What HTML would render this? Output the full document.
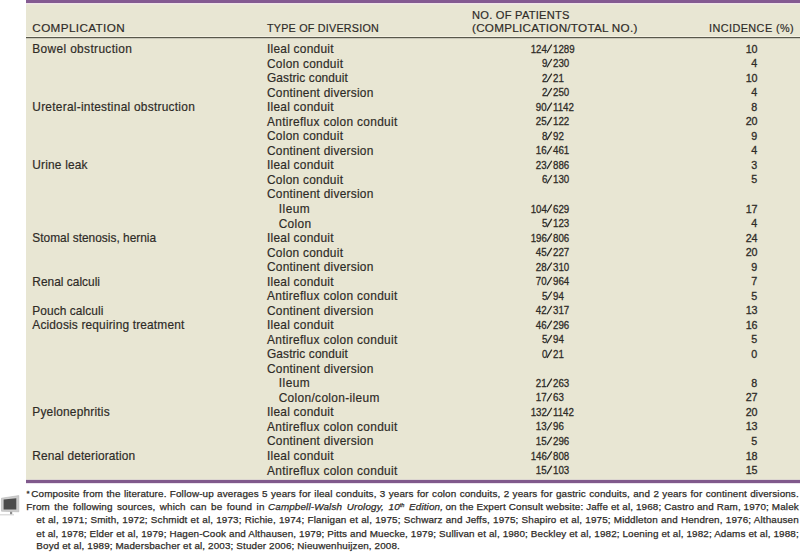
<!DOCTYPE html><html><head><meta charset="utf-8"><style>
html,body{margin:0;padding:0;background:#fff;width:800px;height:552px;overflow:hidden;position:relative;}
body{font-family:"Liberation Sans",sans-serif;color:#2e2b27;}
.t{position:absolute;white-space:nowrap;-webkit-text-stroke:0.18px #2e2b27;}
.r{position:absolute;left:26px;width:774px;}
</style></head><body>
<div class="r" style="top:0;height:480px;background:#e8e6d3"></div>
<div class="r" style="top:0;height:3px;background:#845a91"></div>
<div class="r" style="top:3px;height:1px;background:#efe3e8"></div>
<div class="r" style="top:4px;height:1px;background:#ece8dc"></div>
<div class="r" style="top:36px;height:1px;background:#f4f1e2"></div>
<div class="r" style="top:37px;height:1px;background:#58574a"></div>
<div class="r" style="top:38px;height:1px;background:#c9c7b9"></div>
<div class="r" style="top:479px;height:1px;background:#dcd6d0"></div>
<div class="r" style="top:480px;height:3px;background:#80598c"></div>
<div class="r" style="top:483px;height:1px;background:#ebe3ee"></div>
<div class="t" style="left:32.30px;top:20.63px;font-size:11.70px;line-height:14.04px;letter-spacing:0.39px;transform:scaleX(1.000);transform-origin:left center;">COMPLICATION</div>
<div class="t" style="left:267.00px;top:20.63px;font-size:11.70px;line-height:14.04px;letter-spacing:0.25px;transform:scaleX(0.920);transform-origin:left center;">TYPE OF DIVERSION</div>
<div class="t" style="left:472.00px;top:7.63px;font-size:11.70px;line-height:14.04px;letter-spacing:0.26px;transform:scaleX(0.950);transform-origin:left center;">NO. OF PATIENTS</div>
<div class="t" style="left:472.00px;top:20.63px;font-size:11.70px;line-height:14.04px;letter-spacing:0.26px;transform:scaleX(1.000);transform-origin:left center;">(COMPLICATION/TOTAL NO.)</div>
<div class="t" style="left:709.40px;top:20.63px;font-size:11.70px;line-height:14.04px;letter-spacing:0.45px;transform:scaleX(0.930);transform-origin:left center;">INCIDENCE (%)</div>
<div class="t" style="left:32.30px;top:42.14px;font-size:11.90px;line-height:14.28px;letter-spacing:0.36px;">Bowel obstruction</div>
<div class="t" style="left:267.00px;top:42.14px;font-size:11.90px;line-height:14.28px;letter-spacing:0.25px;">Ileal conduit</div>
<div class="t" style="right:253.00px;top:42.70px;font-size:11.30px;line-height:13.56px;letter-spacing:0.00px;text-align:right;transform:scaleX(0.860);transform-origin:right center;-webkit-text-stroke-width:0.30px;">124</div>
<div class="t" style="left:552.60px;top:42.70px;font-size:11.30px;line-height:13.56px;letter-spacing:0.00px;transform:scaleX(0.860);transform-origin:left center;-webkit-text-stroke-width:0.30px;">1289</div>
<div class="t" style="right:42.80px;top:42.70px;font-size:11.30px;line-height:13.56px;letter-spacing:0.00px;text-align:right;transform:scaleX(0.950);transform-origin:right center;-webkit-text-stroke-width:0.30px;">10</div>
<div class="t" style="left:267.00px;top:56.67px;font-size:11.90px;line-height:14.28px;letter-spacing:0.27px;">Colon conduit</div>
<div class="t" style="right:253.00px;top:57.23px;font-size:11.30px;line-height:13.56px;letter-spacing:0.00px;text-align:right;transform:scaleX(0.860);transform-origin:right center;-webkit-text-stroke-width:0.30px;">9</div>
<div class="t" style="left:552.60px;top:57.23px;font-size:11.30px;line-height:13.56px;letter-spacing:0.00px;transform:scaleX(0.860);transform-origin:left center;-webkit-text-stroke-width:0.30px;">230</div>
<div class="t" style="right:42.80px;top:57.23px;font-size:11.30px;line-height:13.56px;letter-spacing:0.00px;text-align:right;transform:scaleX(0.950);transform-origin:right center;-webkit-text-stroke-width:0.30px;">4</div>
<div class="t" style="left:267.00px;top:71.20px;font-size:11.90px;line-height:14.28px;letter-spacing:0.11px;">Gastric conduit</div>
<div class="t" style="right:253.00px;top:71.76px;font-size:11.30px;line-height:13.56px;letter-spacing:0.00px;text-align:right;transform:scaleX(0.860);transform-origin:right center;-webkit-text-stroke-width:0.30px;">2</div>
<div class="t" style="left:552.60px;top:71.76px;font-size:11.30px;line-height:13.56px;letter-spacing:0.00px;transform:scaleX(0.860);transform-origin:left center;-webkit-text-stroke-width:0.30px;">21</div>
<div class="t" style="right:42.80px;top:71.76px;font-size:11.30px;line-height:13.56px;letter-spacing:0.00px;text-align:right;transform:scaleX(0.950);transform-origin:right center;-webkit-text-stroke-width:0.30px;">10</div>
<div class="t" style="left:267.00px;top:85.73px;font-size:11.90px;line-height:14.28px;letter-spacing:0.25px;">Continent diversion</div>
<div class="t" style="right:253.00px;top:86.29px;font-size:11.30px;line-height:13.56px;letter-spacing:0.00px;text-align:right;transform:scaleX(0.860);transform-origin:right center;-webkit-text-stroke-width:0.30px;">2</div>
<div class="t" style="left:552.60px;top:86.29px;font-size:11.30px;line-height:13.56px;letter-spacing:0.00px;transform:scaleX(0.860);transform-origin:left center;-webkit-text-stroke-width:0.30px;">250</div>
<div class="t" style="right:42.80px;top:86.29px;font-size:11.30px;line-height:13.56px;letter-spacing:0.00px;text-align:right;transform:scaleX(0.950);transform-origin:right center;-webkit-text-stroke-width:0.30px;">4</div>
<div class="t" style="left:32.30px;top:100.26px;font-size:11.90px;line-height:14.28px;letter-spacing:0.26px;">Ureteral-intestinal obstruction</div>
<div class="t" style="left:267.00px;top:100.26px;font-size:11.90px;line-height:14.28px;letter-spacing:0.25px;">Ileal conduit</div>
<div class="t" style="right:253.00px;top:100.82px;font-size:11.30px;line-height:13.56px;letter-spacing:0.00px;text-align:right;transform:scaleX(0.860);transform-origin:right center;-webkit-text-stroke-width:0.30px;">90</div>
<div class="t" style="left:552.60px;top:100.82px;font-size:11.30px;line-height:13.56px;letter-spacing:0.00px;transform:scaleX(0.860);transform-origin:left center;-webkit-text-stroke-width:0.30px;">1142</div>
<div class="t" style="right:42.80px;top:100.82px;font-size:11.30px;line-height:13.56px;letter-spacing:0.00px;text-align:right;transform:scaleX(0.950);transform-origin:right center;-webkit-text-stroke-width:0.30px;">8</div>
<div class="t" style="left:267.00px;top:114.79px;font-size:11.90px;line-height:14.28px;letter-spacing:0.32px;">Antireflux colon conduit</div>
<div class="t" style="right:253.00px;top:115.35px;font-size:11.30px;line-height:13.56px;letter-spacing:0.00px;text-align:right;transform:scaleX(0.860);transform-origin:right center;-webkit-text-stroke-width:0.30px;">25</div>
<div class="t" style="left:552.60px;top:115.35px;font-size:11.30px;line-height:13.56px;letter-spacing:0.00px;transform:scaleX(0.860);transform-origin:left center;-webkit-text-stroke-width:0.30px;">122</div>
<div class="t" style="right:42.80px;top:115.35px;font-size:11.30px;line-height:13.56px;letter-spacing:0.00px;text-align:right;transform:scaleX(0.950);transform-origin:right center;-webkit-text-stroke-width:0.30px;">20</div>
<div class="t" style="left:267.00px;top:129.32px;font-size:11.90px;line-height:14.28px;letter-spacing:0.27px;">Colon conduit</div>
<div class="t" style="right:253.00px;top:129.88px;font-size:11.30px;line-height:13.56px;letter-spacing:0.00px;text-align:right;transform:scaleX(0.860);transform-origin:right center;-webkit-text-stroke-width:0.30px;">8</div>
<div class="t" style="left:552.60px;top:129.88px;font-size:11.30px;line-height:13.56px;letter-spacing:0.00px;transform:scaleX(0.860);transform-origin:left center;-webkit-text-stroke-width:0.30px;">92</div>
<div class="t" style="right:42.80px;top:129.88px;font-size:11.30px;line-height:13.56px;letter-spacing:0.00px;text-align:right;transform:scaleX(0.950);transform-origin:right center;-webkit-text-stroke-width:0.30px;">9</div>
<div class="t" style="left:267.00px;top:143.85px;font-size:11.90px;line-height:14.28px;letter-spacing:0.25px;">Continent diversion</div>
<div class="t" style="right:253.00px;top:144.41px;font-size:11.30px;line-height:13.56px;letter-spacing:0.00px;text-align:right;transform:scaleX(0.860);transform-origin:right center;-webkit-text-stroke-width:0.30px;">16</div>
<div class="t" style="left:552.60px;top:144.41px;font-size:11.30px;line-height:13.56px;letter-spacing:0.00px;transform:scaleX(0.860);transform-origin:left center;-webkit-text-stroke-width:0.30px;">461</div>
<div class="t" style="right:42.80px;top:144.41px;font-size:11.30px;line-height:13.56px;letter-spacing:0.00px;text-align:right;transform:scaleX(0.950);transform-origin:right center;-webkit-text-stroke-width:0.30px;">4</div>
<div class="t" style="left:32.30px;top:158.38px;font-size:11.90px;line-height:14.28px;letter-spacing:0.19px;">Urine leak</div>
<div class="t" style="left:267.00px;top:158.38px;font-size:11.90px;line-height:14.28px;letter-spacing:0.25px;">Ileal conduit</div>
<div class="t" style="right:253.00px;top:158.94px;font-size:11.30px;line-height:13.56px;letter-spacing:0.00px;text-align:right;transform:scaleX(0.860);transform-origin:right center;-webkit-text-stroke-width:0.30px;">23</div>
<div class="t" style="left:552.60px;top:158.94px;font-size:11.30px;line-height:13.56px;letter-spacing:0.00px;transform:scaleX(0.860);transform-origin:left center;-webkit-text-stroke-width:0.30px;">886</div>
<div class="t" style="right:42.80px;top:158.94px;font-size:11.30px;line-height:13.56px;letter-spacing:0.00px;text-align:right;transform:scaleX(0.950);transform-origin:right center;-webkit-text-stroke-width:0.30px;">3</div>
<div class="t" style="left:267.00px;top:172.91px;font-size:11.90px;line-height:14.28px;letter-spacing:0.27px;">Colon conduit</div>
<div class="t" style="right:253.00px;top:173.47px;font-size:11.30px;line-height:13.56px;letter-spacing:0.00px;text-align:right;transform:scaleX(0.860);transform-origin:right center;-webkit-text-stroke-width:0.30px;">6</div>
<div class="t" style="left:552.60px;top:173.47px;font-size:11.30px;line-height:13.56px;letter-spacing:0.00px;transform:scaleX(0.860);transform-origin:left center;-webkit-text-stroke-width:0.30px;">130</div>
<div class="t" style="right:42.80px;top:173.47px;font-size:11.30px;line-height:13.56px;letter-spacing:0.00px;text-align:right;transform:scaleX(0.950);transform-origin:right center;-webkit-text-stroke-width:0.30px;">5</div>
<div class="t" style="left:267.00px;top:187.44px;font-size:11.90px;line-height:14.28px;letter-spacing:0.25px;">Continent diversion</div>
<div class="t" style="left:278.70px;top:201.97px;font-size:11.90px;line-height:14.28px;letter-spacing:0.50px;">Ileum</div>
<div class="t" style="right:253.00px;top:202.53px;font-size:11.30px;line-height:13.56px;letter-spacing:0.00px;text-align:right;transform:scaleX(0.860);transform-origin:right center;-webkit-text-stroke-width:0.30px;">104</div>
<div class="t" style="left:552.60px;top:202.53px;font-size:11.30px;line-height:13.56px;letter-spacing:0.00px;transform:scaleX(0.860);transform-origin:left center;-webkit-text-stroke-width:0.30px;">629</div>
<div class="t" style="right:42.80px;top:202.53px;font-size:11.30px;line-height:13.56px;letter-spacing:0.00px;text-align:right;transform:scaleX(0.950);transform-origin:right center;-webkit-text-stroke-width:0.30px;">17</div>
<div class="t" style="left:278.70px;top:216.50px;font-size:11.90px;line-height:14.28px;letter-spacing:0.31px;">Colon</div>
<div class="t" style="right:253.00px;top:217.06px;font-size:11.30px;line-height:13.56px;letter-spacing:0.00px;text-align:right;transform:scaleX(0.860);transform-origin:right center;-webkit-text-stroke-width:0.30px;">5</div>
<div class="t" style="left:552.60px;top:217.06px;font-size:11.30px;line-height:13.56px;letter-spacing:0.00px;transform:scaleX(0.860);transform-origin:left center;-webkit-text-stroke-width:0.30px;">123</div>
<div class="t" style="right:42.80px;top:217.06px;font-size:11.30px;line-height:13.56px;letter-spacing:0.00px;text-align:right;transform:scaleX(0.950);transform-origin:right center;-webkit-text-stroke-width:0.30px;">4</div>
<div class="t" style="left:32.30px;top:231.03px;font-size:11.90px;line-height:14.28px;letter-spacing:0.01px;">Stomal stenosis, hernia</div>
<div class="t" style="left:267.00px;top:231.03px;font-size:11.90px;line-height:14.28px;letter-spacing:0.25px;">Ileal conduit</div>
<div class="t" style="right:253.00px;top:231.59px;font-size:11.30px;line-height:13.56px;letter-spacing:0.00px;text-align:right;transform:scaleX(0.860);transform-origin:right center;-webkit-text-stroke-width:0.30px;">196</div>
<div class="t" style="left:552.60px;top:231.59px;font-size:11.30px;line-height:13.56px;letter-spacing:0.00px;transform:scaleX(0.860);transform-origin:left center;-webkit-text-stroke-width:0.30px;">806</div>
<div class="t" style="right:42.80px;top:231.59px;font-size:11.30px;line-height:13.56px;letter-spacing:0.00px;text-align:right;transform:scaleX(0.950);transform-origin:right center;-webkit-text-stroke-width:0.30px;">24</div>
<div class="t" style="left:267.00px;top:245.56px;font-size:11.90px;line-height:14.28px;letter-spacing:0.27px;">Colon conduit</div>
<div class="t" style="right:253.00px;top:246.12px;font-size:11.30px;line-height:13.56px;letter-spacing:0.00px;text-align:right;transform:scaleX(0.860);transform-origin:right center;-webkit-text-stroke-width:0.30px;">45</div>
<div class="t" style="left:552.60px;top:246.12px;font-size:11.30px;line-height:13.56px;letter-spacing:0.00px;transform:scaleX(0.860);transform-origin:left center;-webkit-text-stroke-width:0.30px;">227</div>
<div class="t" style="right:42.80px;top:246.12px;font-size:11.30px;line-height:13.56px;letter-spacing:0.00px;text-align:right;transform:scaleX(0.950);transform-origin:right center;-webkit-text-stroke-width:0.30px;">20</div>
<div class="t" style="left:267.00px;top:260.09px;font-size:11.90px;line-height:14.28px;letter-spacing:0.25px;">Continent diversion</div>
<div class="t" style="right:253.00px;top:260.65px;font-size:11.30px;line-height:13.56px;letter-spacing:0.00px;text-align:right;transform:scaleX(0.860);transform-origin:right center;-webkit-text-stroke-width:0.30px;">28</div>
<div class="t" style="left:552.60px;top:260.65px;font-size:11.30px;line-height:13.56px;letter-spacing:0.00px;transform:scaleX(0.860);transform-origin:left center;-webkit-text-stroke-width:0.30px;">310</div>
<div class="t" style="right:42.80px;top:260.65px;font-size:11.30px;line-height:13.56px;letter-spacing:0.00px;text-align:right;transform:scaleX(0.950);transform-origin:right center;-webkit-text-stroke-width:0.30px;">9</div>
<div class="t" style="left:32.30px;top:274.62px;font-size:11.90px;line-height:14.28px;letter-spacing:0.02px;">Renal calculi</div>
<div class="t" style="left:267.00px;top:274.62px;font-size:11.90px;line-height:14.28px;letter-spacing:0.25px;">Ileal conduit</div>
<div class="t" style="right:253.00px;top:275.18px;font-size:11.30px;line-height:13.56px;letter-spacing:0.00px;text-align:right;transform:scaleX(0.860);transform-origin:right center;-webkit-text-stroke-width:0.30px;">70</div>
<div class="t" style="left:552.60px;top:275.18px;font-size:11.30px;line-height:13.56px;letter-spacing:0.00px;transform:scaleX(0.860);transform-origin:left center;-webkit-text-stroke-width:0.30px;">964</div>
<div class="t" style="right:42.80px;top:275.18px;font-size:11.30px;line-height:13.56px;letter-spacing:0.00px;text-align:right;transform:scaleX(0.950);transform-origin:right center;-webkit-text-stroke-width:0.30px;">7</div>
<div class="t" style="left:267.00px;top:289.15px;font-size:11.90px;line-height:14.28px;letter-spacing:0.32px;">Antireflux colon conduit</div>
<div class="t" style="right:253.00px;top:289.71px;font-size:11.30px;line-height:13.56px;letter-spacing:0.00px;text-align:right;transform:scaleX(0.860);transform-origin:right center;-webkit-text-stroke-width:0.30px;">5</div>
<div class="t" style="left:552.60px;top:289.71px;font-size:11.30px;line-height:13.56px;letter-spacing:0.00px;transform:scaleX(0.860);transform-origin:left center;-webkit-text-stroke-width:0.30px;">94</div>
<div class="t" style="right:42.80px;top:289.71px;font-size:11.30px;line-height:13.56px;letter-spacing:0.00px;text-align:right;transform:scaleX(0.950);transform-origin:right center;-webkit-text-stroke-width:0.30px;">5</div>
<div class="t" style="left:32.30px;top:303.68px;font-size:11.90px;line-height:14.28px;letter-spacing:0.08px;">Pouch calculi</div>
<div class="t" style="left:267.00px;top:303.68px;font-size:11.90px;line-height:14.28px;letter-spacing:0.25px;">Continent diversion</div>
<div class="t" style="right:253.00px;top:304.24px;font-size:11.30px;line-height:13.56px;letter-spacing:0.00px;text-align:right;transform:scaleX(0.860);transform-origin:right center;-webkit-text-stroke-width:0.30px;">42</div>
<div class="t" style="left:552.60px;top:304.24px;font-size:11.30px;line-height:13.56px;letter-spacing:0.00px;transform:scaleX(0.860);transform-origin:left center;-webkit-text-stroke-width:0.30px;">317</div>
<div class="t" style="right:42.80px;top:304.24px;font-size:11.30px;line-height:13.56px;letter-spacing:0.00px;text-align:right;transform:scaleX(0.950);transform-origin:right center;-webkit-text-stroke-width:0.30px;">13</div>
<div class="t" style="left:32.30px;top:318.21px;font-size:11.90px;line-height:14.28px;letter-spacing:0.17px;">Acidosis requiring treatment</div>
<div class="t" style="left:267.00px;top:318.21px;font-size:11.90px;line-height:14.28px;letter-spacing:0.25px;">Ileal conduit</div>
<div class="t" style="right:253.00px;top:318.77px;font-size:11.30px;line-height:13.56px;letter-spacing:0.00px;text-align:right;transform:scaleX(0.860);transform-origin:right center;-webkit-text-stroke-width:0.30px;">46</div>
<div class="t" style="left:552.60px;top:318.77px;font-size:11.30px;line-height:13.56px;letter-spacing:0.00px;transform:scaleX(0.860);transform-origin:left center;-webkit-text-stroke-width:0.30px;">296</div>
<div class="t" style="right:42.80px;top:318.77px;font-size:11.30px;line-height:13.56px;letter-spacing:0.00px;text-align:right;transform:scaleX(0.950);transform-origin:right center;-webkit-text-stroke-width:0.30px;">16</div>
<div class="t" style="left:267.00px;top:332.74px;font-size:11.90px;line-height:14.28px;letter-spacing:0.32px;">Antireflux colon conduit</div>
<div class="t" style="right:253.00px;top:333.30px;font-size:11.30px;line-height:13.56px;letter-spacing:0.00px;text-align:right;transform:scaleX(0.860);transform-origin:right center;-webkit-text-stroke-width:0.30px;">5</div>
<div class="t" style="left:552.60px;top:333.30px;font-size:11.30px;line-height:13.56px;letter-spacing:0.00px;transform:scaleX(0.860);transform-origin:left center;-webkit-text-stroke-width:0.30px;">94</div>
<div class="t" style="right:42.80px;top:333.30px;font-size:11.30px;line-height:13.56px;letter-spacing:0.00px;text-align:right;transform:scaleX(0.950);transform-origin:right center;-webkit-text-stroke-width:0.30px;">5</div>
<div class="t" style="left:267.00px;top:347.27px;font-size:11.90px;line-height:14.28px;letter-spacing:0.11px;">Gastric conduit</div>
<div class="t" style="right:253.00px;top:347.83px;font-size:11.30px;line-height:13.56px;letter-spacing:0.00px;text-align:right;transform:scaleX(0.860);transform-origin:right center;-webkit-text-stroke-width:0.30px;">0</div>
<div class="t" style="left:552.60px;top:347.83px;font-size:11.30px;line-height:13.56px;letter-spacing:0.00px;transform:scaleX(0.860);transform-origin:left center;-webkit-text-stroke-width:0.30px;">21</div>
<div class="t" style="right:42.80px;top:347.83px;font-size:11.30px;line-height:13.56px;letter-spacing:0.00px;text-align:right;transform:scaleX(0.950);transform-origin:right center;-webkit-text-stroke-width:0.30px;">0</div>
<div class="t" style="left:267.00px;top:361.80px;font-size:11.90px;line-height:14.28px;letter-spacing:0.25px;">Continent diversion</div>
<div class="t" style="left:278.70px;top:376.33px;font-size:11.90px;line-height:14.28px;letter-spacing:0.50px;">Ileum</div>
<div class="t" style="right:253.00px;top:376.89px;font-size:11.30px;line-height:13.56px;letter-spacing:0.00px;text-align:right;transform:scaleX(0.860);transform-origin:right center;-webkit-text-stroke-width:0.30px;">21</div>
<div class="t" style="left:552.60px;top:376.89px;font-size:11.30px;line-height:13.56px;letter-spacing:0.00px;transform:scaleX(0.860);transform-origin:left center;-webkit-text-stroke-width:0.30px;">263</div>
<div class="t" style="right:42.80px;top:376.89px;font-size:11.30px;line-height:13.56px;letter-spacing:0.00px;text-align:right;transform:scaleX(0.950);transform-origin:right center;-webkit-text-stroke-width:0.30px;">8</div>
<div class="t" style="left:278.70px;top:390.86px;font-size:11.90px;line-height:14.28px;letter-spacing:0.34px;">Colon/colon-ileum</div>
<div class="t" style="right:253.00px;top:391.42px;font-size:11.30px;line-height:13.56px;letter-spacing:0.00px;text-align:right;transform:scaleX(0.860);transform-origin:right center;-webkit-text-stroke-width:0.30px;">17</div>
<div class="t" style="left:552.60px;top:391.42px;font-size:11.30px;line-height:13.56px;letter-spacing:0.00px;transform:scaleX(0.860);transform-origin:left center;-webkit-text-stroke-width:0.30px;">63</div>
<div class="t" style="right:42.80px;top:391.42px;font-size:11.30px;line-height:13.56px;letter-spacing:0.00px;text-align:right;transform:scaleX(0.950);transform-origin:right center;-webkit-text-stroke-width:0.30px;">27</div>
<div class="t" style="left:32.30px;top:405.39px;font-size:11.90px;line-height:14.28px;letter-spacing:0.20px;">Pyelonephritis</div>
<div class="t" style="left:267.00px;top:405.39px;font-size:11.90px;line-height:14.28px;letter-spacing:0.25px;">Ileal conduit</div>
<div class="t" style="right:253.00px;top:405.95px;font-size:11.30px;line-height:13.56px;letter-spacing:0.00px;text-align:right;transform:scaleX(0.860);transform-origin:right center;-webkit-text-stroke-width:0.30px;">132</div>
<div class="t" style="left:552.60px;top:405.95px;font-size:11.30px;line-height:13.56px;letter-spacing:0.00px;transform:scaleX(0.860);transform-origin:left center;-webkit-text-stroke-width:0.30px;">1142</div>
<div class="t" style="right:42.80px;top:405.95px;font-size:11.30px;line-height:13.56px;letter-spacing:0.00px;text-align:right;transform:scaleX(0.950);transform-origin:right center;-webkit-text-stroke-width:0.30px;">20</div>
<div class="t" style="left:267.00px;top:419.92px;font-size:11.90px;line-height:14.28px;letter-spacing:0.32px;">Antireflux colon conduit</div>
<div class="t" style="right:253.00px;top:420.48px;font-size:11.30px;line-height:13.56px;letter-spacing:0.00px;text-align:right;transform:scaleX(0.860);transform-origin:right center;-webkit-text-stroke-width:0.30px;">13</div>
<div class="t" style="left:552.60px;top:420.48px;font-size:11.30px;line-height:13.56px;letter-spacing:0.00px;transform:scaleX(0.860);transform-origin:left center;-webkit-text-stroke-width:0.30px;">96</div>
<div class="t" style="right:42.80px;top:420.48px;font-size:11.30px;line-height:13.56px;letter-spacing:0.00px;text-align:right;transform:scaleX(0.950);transform-origin:right center;-webkit-text-stroke-width:0.30px;">13</div>
<div class="t" style="left:267.00px;top:434.45px;font-size:11.90px;line-height:14.28px;letter-spacing:0.25px;">Continent diversion</div>
<div class="t" style="right:253.00px;top:435.01px;font-size:11.30px;line-height:13.56px;letter-spacing:0.00px;text-align:right;transform:scaleX(0.860);transform-origin:right center;-webkit-text-stroke-width:0.30px;">15</div>
<div class="t" style="left:552.60px;top:435.01px;font-size:11.30px;line-height:13.56px;letter-spacing:0.00px;transform:scaleX(0.860);transform-origin:left center;-webkit-text-stroke-width:0.30px;">296</div>
<div class="t" style="right:42.80px;top:435.01px;font-size:11.30px;line-height:13.56px;letter-spacing:0.00px;text-align:right;transform:scaleX(0.950);transform-origin:right center;-webkit-text-stroke-width:0.30px;">5</div>
<div class="t" style="left:32.30px;top:448.98px;font-size:11.90px;line-height:14.28px;letter-spacing:0.13px;">Renal deterioration</div>
<div class="t" style="left:267.00px;top:448.98px;font-size:11.90px;line-height:14.28px;letter-spacing:0.25px;">Ileal conduit</div>
<div class="t" style="right:253.00px;top:449.54px;font-size:11.30px;line-height:13.56px;letter-spacing:0.00px;text-align:right;transform:scaleX(0.860);transform-origin:right center;-webkit-text-stroke-width:0.30px;">146</div>
<div class="t" style="left:552.60px;top:449.54px;font-size:11.30px;line-height:13.56px;letter-spacing:0.00px;transform:scaleX(0.860);transform-origin:left center;-webkit-text-stroke-width:0.30px;">808</div>
<div class="t" style="right:42.80px;top:449.54px;font-size:11.30px;line-height:13.56px;letter-spacing:0.00px;text-align:right;transform:scaleX(0.950);transform-origin:right center;-webkit-text-stroke-width:0.30px;">18</div>
<div class="t" style="left:267.00px;top:463.51px;font-size:11.90px;line-height:14.28px;letter-spacing:0.32px;">Antireflux colon conduit</div>
<div class="t" style="right:253.00px;top:464.07px;font-size:11.30px;line-height:13.56px;letter-spacing:0.00px;text-align:right;transform:scaleX(0.860);transform-origin:right center;-webkit-text-stroke-width:0.30px;">15</div>
<div class="t" style="left:552.60px;top:464.07px;font-size:11.30px;line-height:13.56px;letter-spacing:0.00px;transform:scaleX(0.860);transform-origin:left center;-webkit-text-stroke-width:0.30px;">103</div>
<div class="t" style="right:42.80px;top:464.07px;font-size:11.30px;line-height:13.56px;letter-spacing:0.00px;text-align:right;transform:scaleX(0.950);transform-origin:right center;-webkit-text-stroke-width:0.30px;">15</div>
<svg style="position:absolute;left:0;top:0" width="800" height="480"><line x1="547.00" y1="52.70" x2="551.80" y2="44.50" stroke="#2e2b27" stroke-width="1.25"/><line x1="547.00" y1="67.23" x2="551.80" y2="59.03" stroke="#2e2b27" stroke-width="1.25"/><line x1="547.00" y1="81.76" x2="551.80" y2="73.56" stroke="#2e2b27" stroke-width="1.25"/><line x1="547.00" y1="96.29" x2="551.80" y2="88.09" stroke="#2e2b27" stroke-width="1.25"/><line x1="547.00" y1="110.82" x2="551.80" y2="102.62" stroke="#2e2b27" stroke-width="1.25"/><line x1="547.00" y1="125.35" x2="551.80" y2="117.15" stroke="#2e2b27" stroke-width="1.25"/><line x1="547.00" y1="139.88" x2="551.80" y2="131.68" stroke="#2e2b27" stroke-width="1.25"/><line x1="547.00" y1="154.41" x2="551.80" y2="146.21" stroke="#2e2b27" stroke-width="1.25"/><line x1="547.00" y1="168.94" x2="551.80" y2="160.74" stroke="#2e2b27" stroke-width="1.25"/><line x1="547.00" y1="183.47" x2="551.80" y2="175.27" stroke="#2e2b27" stroke-width="1.25"/><line x1="547.00" y1="212.53" x2="551.80" y2="204.33" stroke="#2e2b27" stroke-width="1.25"/><line x1="547.00" y1="227.06" x2="551.80" y2="218.86" stroke="#2e2b27" stroke-width="1.25"/><line x1="547.00" y1="241.59" x2="551.80" y2="233.39" stroke="#2e2b27" stroke-width="1.25"/><line x1="547.00" y1="256.12" x2="551.80" y2="247.92" stroke="#2e2b27" stroke-width="1.25"/><line x1="547.00" y1="270.65" x2="551.80" y2="262.45" stroke="#2e2b27" stroke-width="1.25"/><line x1="547.00" y1="285.18" x2="551.80" y2="276.98" stroke="#2e2b27" stroke-width="1.25"/><line x1="547.00" y1="299.71" x2="551.80" y2="291.51" stroke="#2e2b27" stroke-width="1.25"/><line x1="547.00" y1="314.24" x2="551.80" y2="306.04" stroke="#2e2b27" stroke-width="1.25"/><line x1="547.00" y1="328.77" x2="551.80" y2="320.57" stroke="#2e2b27" stroke-width="1.25"/><line x1="547.00" y1="343.30" x2="551.80" y2="335.10" stroke="#2e2b27" stroke-width="1.25"/><line x1="547.00" y1="357.83" x2="551.80" y2="349.63" stroke="#2e2b27" stroke-width="1.25"/><line x1="547.00" y1="386.89" x2="551.80" y2="378.69" stroke="#2e2b27" stroke-width="1.25"/><line x1="547.00" y1="401.42" x2="551.80" y2="393.22" stroke="#2e2b27" stroke-width="1.25"/><line x1="547.00" y1="415.95" x2="551.80" y2="407.75" stroke="#2e2b27" stroke-width="1.25"/><line x1="547.00" y1="430.48" x2="551.80" y2="422.28" stroke="#2e2b27" stroke-width="1.25"/><line x1="547.00" y1="445.01" x2="551.80" y2="436.81" stroke="#2e2b27" stroke-width="1.25"/><line x1="547.00" y1="459.54" x2="551.80" y2="451.34" stroke="#2e2b27" stroke-width="1.25"/><line x1="547.00" y1="474.07" x2="551.80" y2="465.87" stroke="#2e2b27" stroke-width="1.25"/></svg>
<div class="t" style="left:31.25px;top:488.17px;font-size:9.90px;line-height:11.00px;letter-spacing:0.13px;word-spacing:0.432px;-webkit-text-stroke-width:0.25px;">Composite from the literature. Follow-up averages 5 years for ileal conduits, 3 years for colon conduits, 2 years for gastric conduits, and 2 years for continent diversions.</div>
<div class="t" style="left:26.30px;top:501.27px;font-size:9.90px;line-height:11.00px;letter-spacing:0.13px;word-spacing:1.605px;-webkit-text-stroke-width:0.25px;">From the following sources, which can be found in</div>
<div class="t" style="left:268.00px;top:501.27px;font-size:9.90px;line-height:11.00px;letter-spacing:0.13px;word-spacing:1.807px;-webkit-text-stroke-width:0.25px;"><i>Campbell-Walsh Urology, 10<sup style="font-size:5.5px;vertical-align:3px;line-height:0;letter-spacing:0">th</sup> Edition,</i></div>
<div class="t" style="left:445.50px;top:501.27px;font-size:9.90px;line-height:11.00px;letter-spacing:0.13px;word-spacing:-0.009px;-webkit-text-stroke-width:0.25px;">on the Expert Consult website: Jaffe et al, 1968; Castro and Ram, 1970; Malek</div>
<div class="t" style="left:36.30px;top:514.27px;font-size:9.90px;line-height:11.00px;letter-spacing:0.13px;word-spacing:0.281px;-webkit-text-stroke-width:0.25px;">et al, 1971; Smith, 1972; Schmidt et al, 1973; Richie, 1974; Flanigan et al, 1975; Schwarz and Jeffs, 1975; Shapiro et al, 1975; Middleton and Hendren, 1976; Althausen</div>
<div class="t" style="left:36.30px;top:527.52px;font-size:9.90px;line-height:11.00px;letter-spacing:0.13px;word-spacing:-0.005px;-webkit-text-stroke-width:0.25px;">et al, 1978; Elder et al, 1979; Hagen-Cook and Althausen, 1979; Pitts and Muecke, 1979; Sullivan et al, 1980; Beckley et al, 1982; Loening et al, 1982; Adams et al, 1988;</div>
<div class="t" style="left:36.30px;top:540.27px;font-size:9.90px;line-height:11.00px;letter-spacing:0.13px;word-spacing:0.000px;-webkit-text-stroke-width:0.25px;">Boyd et al, 1989; Madersbacher et al, 2003; Studer 2006; Nieuwenhuijzen, 2008.</div>
<div class="t" style="left:26.4px;top:489.6px;font-size:8px;line-height:8px;-webkit-text-stroke-width:0.3px;">*</div>
<svg style="position:absolute;left:0;top:490px" width="24" height="30" viewBox="0 490 24 30">
<polygon points="1.5,498.2 18.8,495.6 18.8,511.8 1.5,511.2" fill="#cdcdcd" stroke="#b4b4b4" stroke-width="0.6"/>
<polygon points="3.6,499.6 16.3,498.3 16.3,509.6 3.6,509.6" fill="#4c4c4c"/>
<rect x="10" y="511.8" width="2.2" height="2.8" fill="#8c8c8c"/>
<rect x="0" y="514.2" width="14" height="1.2" fill="#d6d6d6"/>
</svg>
</body></html>
